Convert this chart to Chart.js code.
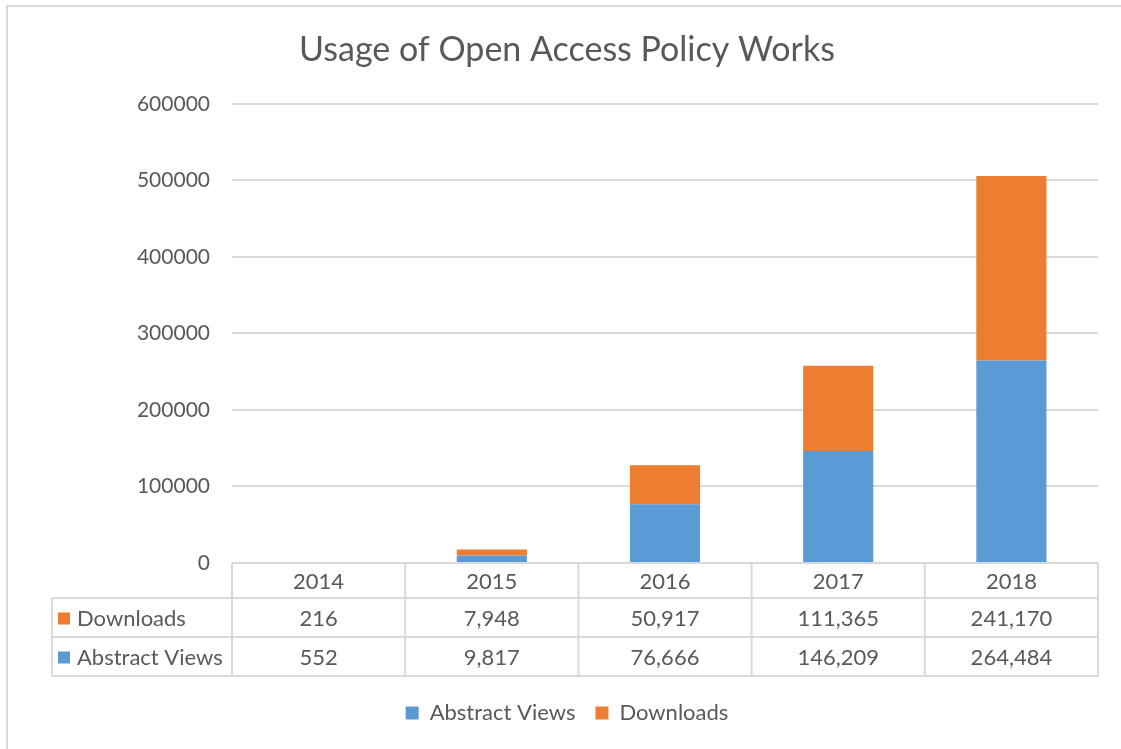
<!DOCTYPE html>
<html>
<head>
<meta charset="utf-8">
<script src="https://cdn.jsdelivr.net/npm/chart.js@4/dist/chart.umd.min.js"></script>
<style>
  html, body { margin: 0; padding: 0; background: #fff; overflow: hidden; }
  #frame { position: absolute; left: 6px; top: 5px; width: 1125px; height: 760px;
           border-left: 2px solid #d9d9d9; border-top: 2px solid #d9d9d9; }
  #wrap { position: absolute; left: 0; top: 0; width: 1121px; height: 749px; }
</style>
</head>
<body>
<div id="frame"></div>
<div id="wrap"><canvas id="usageChart"></canvas></div>
<script>
// Chart values
const years = ['2014', '2015', '2016', '2017', '2018'];
const abstractViews = [552, 9817, 76666, 146209, 264484];
const downloads = [216, 7948, 50917, 111365, 241170];
const yTicks = [0, 100000, 200000, 300000, 400000, 500000, 600000];

const TEXT = '#595959';
const GRID = '#d9d9d9';
const BLUE = '#5b9bd5';
const ORANGE = '#ed7d31';
const FONT = 'Lato, "Open Sans", sans-serif';
const PAD_LEFT = 36;

// Excel-like data table under the plot area
const dataTable = {
  id: 'dataTable',
  afterDraw(chart) {
    const ctx = chart.ctx;
    const xs = chart.scales.x;
    const area = chart.chartArea;
    const step = xs.getPixelForValue(1) - xs.getPixelForValue(0);
    const left = xs.getPixelForValue(0) - step / 2;
    const right = xs.getPixelForValue(years.length - 1) + step / 2;
    const labelLeft = 52;
    const y0 = area.bottom;
    const rowH = [35, 39, 39];
    const y1 = y0 + rowH[0], y2 = y1 + rowH[1], y3 = y2 + rowH[2];

    const rows = [
      { name: 'Downloads', color: ORANGE, values: downloads },
      { name: 'Abstract Views', color: BLUE, values: abstractViews }
    ];

    ctx.save();
    ctx.strokeStyle = GRID;
    ctx.lineWidth = 2;
    ctx.beginPath();
    // horizontal lines
    ctx.moveTo(left, y0); ctx.lineTo(right, y0);
    ctx.moveTo(labelLeft, y1); ctx.lineTo(right, y1);
    ctx.moveTo(labelLeft, y2); ctx.lineTo(right, y2);
    ctx.moveTo(labelLeft, y3); ctx.lineTo(right, y3);
    // vertical lines
    ctx.moveTo(labelLeft, y1); ctx.lineTo(labelLeft, y3);
    for (let i = 0; i <= years.length; i++) {
      const x = left + i * step;
      ctx.moveTo(x, y0); ctx.lineTo(x, y3);
    }
    ctx.stroke();

    ctx.fillStyle = TEXT;
    ctx.font = '22px ' + FONT;
    ctx.textBaseline = 'middle';
    ctx.textAlign = 'center';
    years.forEach((yr, i) => {
      ctx.fillText(yr, xs.getPixelForValue(i), (y0 + y1) / 2 + 1);
    });

    const fmt = new Intl.NumberFormat('en-US');
    const tops = [y1, y2];
    rows.forEach((r, ri) => {
      const cy = tops[ri] + rowH[ri + 1] / 2 + 1;
      ctx.textAlign = 'center';
      ctx.fillStyle = TEXT;
      r.values.forEach((v, i) => ctx.fillText(fmt.format(v), xs.getPixelForValue(i), cy));
      ctx.fillStyle = r.color;
      ctx.fillRect(labelLeft + 6, cy - 6, 12, 12);
      ctx.fillStyle = TEXT;
      ctx.textAlign = 'left';
      ctx.fillText(r.name, labelLeft + 25, cy);
    });
    ctx.restore();
  }
};

new Chart(document.getElementById('usageChart').getContext('2d'), {
  type: 'bar',
  data: {
    labels: years,
    datasets: [
      { label: 'Abstract Views', data: abstractViews, backgroundColor: BLUE, borderWidth: 0 },
      { label: 'Downloads', data: downloads, backgroundColor: ORANGE, borderWidth: 0 }
    ]
  },
  options: {
    responsive: true,
    maintainAspectRatio: false,
    animation: false,
    devicePixelRatio: 1,
    datasets: { bar: { barPercentage: 0.405, categoryPercentage: 1 } },
    layout: { padding: { left: PAD_LEFT, right: 23, top: 0, bottom: 15 } },
    plugins: {
      title: {
        display: true,
        text: 'Usage of Open Access Policy Works',
        color: TEXT,
        font: { family: FONT, size: 34, weight: 'normal' },
        padding: { top: 30, bottom: 33 }
      },
      legend: {
        position: 'bottom',
        labels: {
          color: TEXT,
          font: { family: FONT, size: 22 },
          boxWidth: 13,
          boxHeight: 13,
          padding: 20
        }
      },
      tooltip: { enabled: false }
    },
    scales: {
      x: {
        stacked: true,
        grid: { display: false },
        border: { display: false },
        ticks: { display: false },
        afterFit: s => { s.height = 119; }
      },
      y: {
        stacked: true,
        min: 0,
        max: 600000,
        afterBuildTicks: s => { s.ticks = yTicks.map(v => ({ value: v })); },
        afterFit: s => { s.width = 232 - PAD_LEFT; },
        grid: { color: GRID, lineWidth: 2, drawTicks: false },
        border: { display: false },
        ticks: {
          color: TEXT,
          font: { family: FONT, size: 21 },
          padding: 22,
          callback: v => String(v)
        }
      }
    }
  },
  plugins: [dataTable]
});
</script>
</body>
</html>
